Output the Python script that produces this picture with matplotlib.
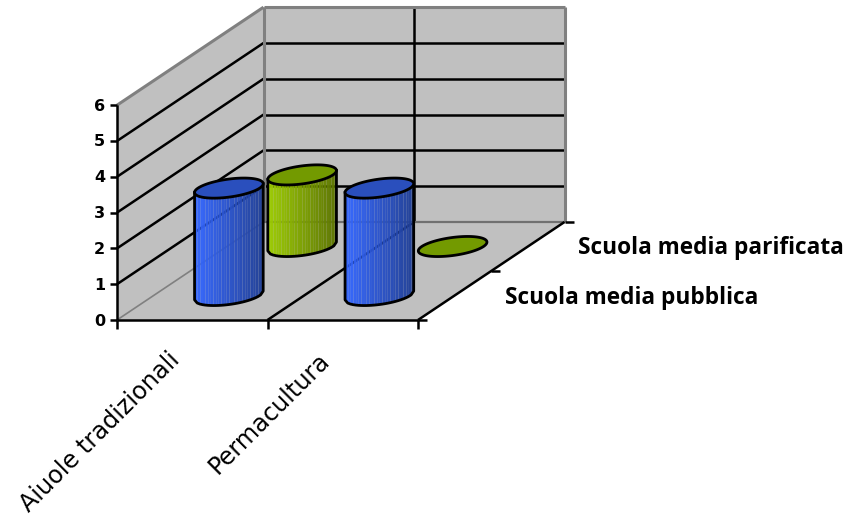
import matplotlib
matplotlib.use("Agg")
import matplotlib.pyplot as plt
import numpy as np

categories = ["Aiuole tradizionali", "Permacultura"]
series_names = ["Scuola media pubblica", "Scuola media parificata"]
pubblica = [3, 3]
parificata = [2, 0]
y_ticks = [0, 1, 2, 3, 4, 5, 6]

# oblique projection of the box: pixels per category, per series, per unit
ORIGIN = np.array([117.0, 320.0])
CAT_STEP = np.array([150.5, 0.0])
SER_STEP = np.array([73.25, -49.0])
VAL_STEP = np.array([0.0, -35.8])
RADIUS = 0.205

WALL = "#c0c0c0"
EDGE = "#808080"


def proj(c, s, v):
    return ORIGIN + c * CAT_STEP + s * SER_STEP + v * VAL_STEP


def seg(ax, a, b, color="black", lw=1.8, z=2):
    ax.plot([a[0], b[0]], [a[1], b[1]], color=color, lw=lw, zorder=z,
            solid_capstyle="butt")


def poly(ax, pts, z=1):
    pts = np.array(pts)
    ax.fill(pts[:, 0], pts[:, 1], color=WALL, lw=0, zorder=z)


def lower_arc(ring):
    # part of the ring between its left and right extremes, on the lower side
    ring = np.roll(ring[:-1], -np.argmin(ring[:-1, 0]), axis=0)
    k = np.argmax(ring[:, 0])
    arc_a = ring[:k + 1]
    arc_b = np.vstack([ring[k:], ring[:1]])[::-1]
    arc = arc_a if arc_a[:, 1].mean() > arc_b[:, 1].mean() else arc_b
    return arc


def cylinder(ax, c, s, value, left, right, top, z):
    center = proj(c + 0.5, s + 0.5, 0)
    t = np.linspace(0, 2 * np.pi, 361)
    ring = center + RADIUS * (np.outer(np.cos(t), CAT_STEP) + np.outer(np.sin(t), SER_STEP))

    if value > 0:
        arc = lower_arc(ring)
        xs = np.linspace(arc[0, 0], arc[-1, 0], 27)
        lower = np.interp(xs, arc[:, 0], arc[:, 1])
        shift = value * -VAL_STEP[1]
        left_c = np.array(matplotlib.colors.to_rgb(left))
        right_c = np.array(matplotlib.colors.to_rgb(right))
        for i in range(len(xs) - 1):
            f = i / (len(xs) - 2)
            col = left_c + (right_c - left_c) * f
            ax.fill_between(xs[i:i + 2], lower[i:i + 2] - shift, lower[i:i + 2],
                            color=col, lw=0, alpha=0.97, zorder=z)
        outline_x = np.concatenate([[xs[0]], xs, [xs[-1]]])
        outline_y = np.concatenate([[lower[0] - shift], lower, [lower[-1] - shift]])
        ax.plot(outline_x, outline_y, color="black", lw=2, zorder=z + 1)

    cap = ring + value * VAL_STEP
    ax.fill(cap[:, 0], cap[:, 1], facecolor=top, edgecolor="black", lw=2, zorder=z + 2)


fig = plt.figure(figsize=(8.46, 5.17), dpi=100)
ax = fig.add_axes([0, 0, 1, 1])
ax.set_xlim(0, 846)
ax.set_ylim(517, 0)
ax.axis("off")

n_cat = len(categories)
n_ser = len(series_names)
top_val = y_ticks[-1]

# walls and floor
poly(ax, [proj(0, 0, 0), proj(0, 0, top_val), proj(0, n_ser, top_val), proj(0, n_ser, 0)])
poly(ax, [proj(0, n_ser, 0), proj(0, n_ser, top_val), proj(n_cat, n_ser, top_val), proj(n_cat, n_ser, 0)])
poly(ax, [proj(0, 0, 0), proj(n_cat, 0, 0), proj(n_cat, n_ser, 0), proj(0, n_ser, 0)])

# gridlines
for v in y_ticks[1:-1]:
    seg(ax, proj(0, 0, v), proj(0, n_ser, v))
    seg(ax, proj(0, n_ser, v), proj(n_cat, n_ser, v))
for c in range(1, n_cat):
    seg(ax, proj(c, 0, 0), proj(c, n_ser, 0))
    seg(ax, proj(c, n_ser, 0), proj(c, n_ser, top_val))

# grey frame of the box
seg(ax, proj(0, 0, top_val), proj(0, n_ser, top_val), EDGE, 2.2)
seg(ax, proj(0, n_ser, top_val), proj(n_cat, n_ser, top_val), EDGE, 2.2)
seg(ax, proj(0, n_ser, 0), proj(0, n_ser, top_val), EDGE, 2.2)
seg(ax, proj(n_cat, n_ser, 0), proj(n_cat, n_ser, top_val), EDGE, 2.2)
seg(ax, proj(0, n_ser, 0), proj(n_cat, n_ser, 0), "#707070", 1.6)
seg(ax, proj(0, 0, 0), proj(0, n_ser, 0), EDGE, 1.2)

# axes and ticks
seg(ax, proj(0, 0, 0), proj(0, 0, top_val), z=3)
seg(ax, proj(0, 0, 0), proj(n_cat, 0, 0), z=3)
seg(ax, proj(n_cat, 0, 0), proj(n_cat, n_ser, 0), z=3)
for v in y_ticks:
    p = proj(0, 0, v)
    seg(ax, p, p + [-7, 0], z=3)
    ax.text(p[0] - 12, p[1] + 1, str(v), ha="right", va="center", fontsize=11.5,
            fontweight="bold", family="DejaVu Sans")
for c in range(n_cat + 1):
    p = proj(c, 0, 0)
    seg(ax, p, p + [0, 9], z=3)
for s in range(n_ser + 1):
    p = proj(n_cat, s, 0)
    seg(ax, p, p + [9, 0], z=3)

for c, name in enumerate(categories):
    p = proj(c + 0.5, 0, 0)
    ax.text(p[0] - 25, p[1] + 28, name, rotation=45, rotation_mode="anchor",
            ha="right", va="top", fontsize=17.3, family="DejaVu Sans")
for s, name in enumerate(series_names):
    p = proj(n_cat, s + 0.5, 0)
    ax.text(p[0] + 50, p[1] + 2, name, ha="left", va="center", fontsize=16.3,
            fontweight="bold", family="Open Sans")

# cylinders, back row first
for c in range(n_cat):
    cylinder(ax, c, 1, parificata[c], "#9ccc00", "#5c7400", "#739a00", 10 + c)
for c in range(n_cat):
    cylinder(ax, c, 0, pubblica[c], "#3366ff", "#203f96", "#2a4fbd", 20 + c)

fig.savefig("out.png", dpi=100)
